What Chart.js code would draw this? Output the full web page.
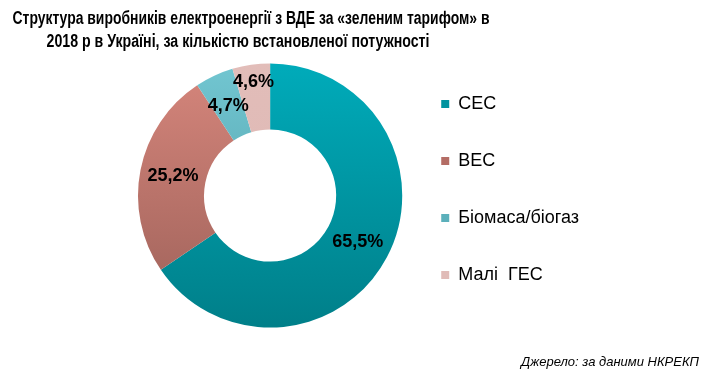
<!DOCTYPE html>
<html>
<head>
<meta charset="utf-8">
<script src="https://cdn.jsdelivr.net/npm/chart.js@4.4.1/dist/chart.umd.min.js"></script>
<style>
  html, body { margin: 0; padding: 0; background: #ffffff; }
  #wrap { width: 713px; height: 375px; position: relative; }
</style>
</head>
<body>
<div id="wrap"><canvas id="c" width="713" height="375"></canvas></div>
<script>
// ---- data ----
const titleLines = [
  "Структура виробників електроенергії з ВДЕ за «зеленим тарифом» в",
  "2018 р в Україні, за кількістю встановленої потужності"
];
const categories = ["СЕС", "ВЕС", "Біомаса/біогаз", "Малі  ГЕС"];
const shares = [65.5, 25.2, 4.7, 4.6];
const valueLabels = ["65,5%", "25,2%", "4,7%", "4,6%"];
const sourceText = "Джерело: за даними НКРЕКП";

// ---- styles ----
const gradTop = ["#00abba", "#d6867c", "#72c6d1", "#e2bdb9"];
const gradBottom = ["#007f89", "#9c6058", "#4a98a2", "#dcb6b2"];
const legendColors = ["#00939f", "#b46d65", "#5bb0bb", "#e0bbb7"];
const FONT = '"Liberation Sans", Arial, sans-serif';

function segColor(ctx) {
  const chart = ctx.chart;
  const area = chart.chartArea;
  if (!area) return gradTop[ctx.dataIndex];
  const cy = (area.top + area.bottom) / 2;
  const r = Math.min(area.right - area.left, area.bottom - area.top) / 2;
  const g = chart.ctx.createLinearGradient(0, cy - r, 0, cy + r);
  g.addColorStop(0, gradTop[ctx.dataIndex]);
  g.addColorStop(1, gradBottom[ctx.dataIndex]);
  return g;
}

const textPlugin = {
  id: 'titleAndSource',
  afterDraw(chart) {
    const c = chart.ctx;
    c.save();
    c.fillStyle = '#000';
    c.font = 'bold 18px ' + FONT;
    c.textAlign = 'center';
    c.textBaseline = 'alphabetic';
    c.fillText(titleLines[0], 251, 24, 477);
    c.fillText(titleLines[1], 238, 47, 383);
    c.font = 'italic 13px ' + FONT;
    c.textAlign = 'right';
    c.fillText(sourceText, 699, 366);
    c.restore();
  }
};

const labelPlugin = {
  id: 'sliceLabels',
  afterDatasetsDraw(chart) {
    const meta = chart.getDatasetMeta(0);
    const c = chart.ctx;
    c.save();
    c.fillStyle = '#000';
    c.font = 'bold 18px ' + FONT;
    c.textAlign = 'center';
    c.textBaseline = 'middle';
    meta.data.forEach((arc, i) => {
      const p = arc.getProps(['x', 'y', 'startAngle', 'endAngle', 'innerRadius', 'outerRadius'], true);
      const mid = (p.startAngle + p.endAngle) / 2;
      let rr = (p.innerRadius + p.outerRadius) / 2;
      if (i === 3) rr = p.outerRadius - 17;
      c.fillText(valueLabels[i], p.x + Math.cos(mid) * rr, p.y + Math.sin(mid) * rr);
    });
    c.restore();
  }
};

new Chart(document.getElementById('c'), {
  type: 'doughnut',
  data: {
    labels: categories,
    datasets: [{
      data: shares,
      backgroundColor: segColor,
      borderWidth: 0,
      hoverOffset: 0
    }]
  },
  options: {
    responsive: false,
    animation: false,
    cutout: '50%',
    layout: { padding: { top: 56, left: 138, right: 124, bottom: 40 } },
    plugins: {
      tooltip: { enabled: false },
      title: { display: false },
      legend: {
        position: 'right',
        align: 'start',
        labels: {
          boxWidth: 8,
          boxHeight: 8,
          padding: 39,
          color: '#000',
          font: { family: FONT, size: 18 },
          generateLabels(chart) {
            return categories.map((name, i) => ({
              text: name,
              fillStyle: legendColors[i],
              strokeStyle: legendColors[i],
              lineWidth: 0,
              hidden: false,
              index: i
            }));
          }
        }
      }
    }
  },
  plugins: [textPlugin, labelPlugin]
});
</script>
</body>
</html>
